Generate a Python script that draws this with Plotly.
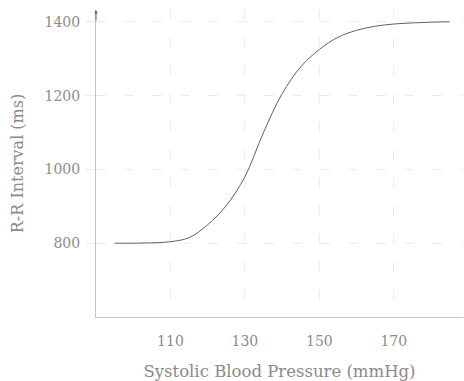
import plotly.graph_objects as go

# Data
sbp = [95, 100, 105, 110, 115, 120, 125, 130, 135, 140, 145, 150, 155, 160, 165, 170, 175, 180, 185]
rr = [800, 800, 801, 804, 815, 850, 902, 980, 1100, 1205, 1278, 1325, 1358, 1377, 1388, 1394, 1397, 1399, 1400]

x_ticks = [110, 130, 150, 170]
y_ticks = [800, 1000, 1200, 1400]

FONT = "DejaVu Serif"
TXT = "#8a8a8a"
GRID = "#ececec"
AXIS = "#c4c4c4"

fig = go.Figure()
fig.add_trace(go.Scatter(x=sbp, y=rr, mode="lines",
                         line=dict(color="#606060", width=1, shape="spline", smoothing=1),
                         showlegend=False, hoverinfo="skip"))

fig.update_layout(
    width=464, height=381,
    margin=dict(l=96, r=1, t=10, b=64),
    paper_bgcolor="white", plot_bgcolor="white",
    font=dict(family=FONT, color=TXT, size=15),
    xaxis=dict(range=[90, 188.6], tickvals=x_ticks, ticktext=[str(v) for v in x_ticks],
               showgrid=True, gridcolor=GRID, griddash="10px,18px", gridwidth=1,
               showline=True, linecolor=AXIS, linewidth=1, zeroline=False, automargin=False,
               ticks="", tickfont=dict(size=14, color=TXT), ticklabelstandoff=11,
               title=dict(text="Systolic Blood Pressure (mmHg)", font=dict(size=16.5, color=TXT), standoff=17)),
    yaxis=dict(range=[600, 1432], tickvals=y_ticks, ticktext=[str(v) for v in y_ticks],
               showgrid=True, gridcolor=GRID, griddash="10px,18px", gridwidth=1,
               showline=True, linecolor=AXIS, linewidth=1, zeroline=False, automargin=False,
               ticks="outside", ticklen=10, tickcolor=GRID, tickfont=dict(size=14, color=TXT),
               ticklabelstandoff=2,
               title=dict(text="R-R Interval (ms)", font=dict(size=16, color=TXT), standoff=16)),
)

fig.add_annotation(xref="paper", yref="paper", x=0, y=1, ax=0, ay=12,
                   showarrow=True, arrowhead=2, arrowsize=0.7, arrowwidth=1,
                   arrowcolor="#666666", text="")

fig.write_html("out.html", config={"displayModeBar": False},
               post_script="document.body.style.margin='0';document.body.style.overflow='hidden';")
